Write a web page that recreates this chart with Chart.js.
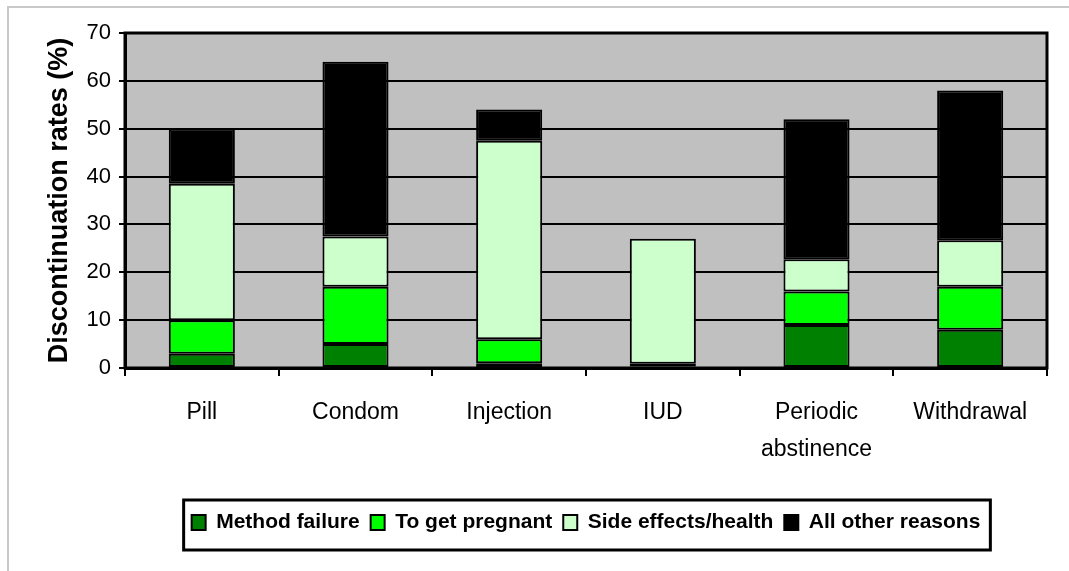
<!DOCTYPE html>
<html>
<head>
<meta charset="utf-8">
<script src="https://cdn.jsdelivr.net/npm/chart.js@4.4.1/dist/chart.umd.min.js"></script>
<style>
html, body { margin: 0; padding: 0; background: #fff; }
#wrap { width: 1069px; height: 571px; }
</style>
</head>
<body>
<div id="wrap"><canvas id="Chart" width="1069" height="571"></canvas></div>
<script>
// categories and the four stacked reasons (percent)
var methods = ['Pill', 'Condom', 'Injection', 'IUD', ['Periodic', 'abstinence'], 'Withdrawal'];
var seriesNames = ['Method failure', 'To get pregnant', 'Side effects/health', 'All other reasons'];
var methodFailure = [3, 5, 1, 0.3, 9, 8];
var toGetPregnant = [7, 12, 5, 0.6, 7, 9];
var sideEffects = [28.5, 10.5, 41.5, 26.1, 6.7, 9.7];
var otherReasons = [11.5, 36.5, 6.5, 0, 29.3, 31.3];
var yMin = 0, yMax = 70, yStep = 10;

var colours = ['#008000', '#00ff00', '#ccffcc', '#000000'];
var values = [methodFailure, toGetPregnant, sideEffects, otherReasons];

var sets = [];
for (var i = 0; i < seriesNames.length; i++) {
    sets.push({
        label: seriesNames[i],
        data: values[i],
        backgroundColor: colours[i],
        borderColor: '#000',
        borderWidth: 2,
        borderSkipped: false,
        barPercentage: 0.43,
        categoryPercentage: 1
    });
}

// grey plot area, black frame, outer frame and the legend box
var frame = {
    id: 'frame',
    afterLayout: function(chart) {
        // centre the legend under the plot area, not the whole canvas
        var lg = chart.legend, a = chart.chartArea;
        lg.left = a.left;
        lg.right = a.right;
        lg.width = a.right - a.left;
    },
    beforeDraw: function(chart) {
        var c = chart.ctx, a = chart.chartArea;
        c.save();
        c.fillStyle = '#c0c0c0';
        c.fillRect(a.left, a.top, a.right - a.left, a.bottom - a.top);
        c.strokeStyle = '#c8c8c8';
        c.lineWidth = 2;
        c.beginPath();
        c.moveTo(8, 571);
        c.lineTo(8, 7);
        c.lineTo(1069, 7);
        c.stroke();
        c.restore();
    },
    afterDraw: function(chart) {
        var c = chart.ctx, a = chart.chartArea;
        c.save();
        c.strokeStyle = '#000';
        c.lineWidth = 3;
        c.strokeRect(a.left, a.top, a.right - a.left, a.bottom - a.top);
        var hb = chart.legend.legendHitBoxes;
        if (hb && hb.length) {
            var l = hb[0].left, r = hb[0].left + hb[0].width, t = hb[0].top, b = hb[0].top + hb[0].height;
            hb.forEach(function(h) {
                l = Math.min(l, h.left); r = Math.max(r, h.left + h.width);
                t = Math.min(t, h.top); b = Math.max(b, h.top + h.height);
            });
            c.lineWidth = 3;
            c.strokeRect(l - 8, t - 12, r - l + 18, b - t + 29);
        }
        c.restore();
    }
};

var ctx = document.getElementById('Chart');
var chart = new Chart(ctx, {
    type: 'bar',
    data: { labels: methods, datasets: sets },
    plugins: [frame],
    options: {
        responsive: false,
        animation: false,
        layout: { padding: { left: 12, right: 22, top: 33, bottom: 28 } },
        plugins: {
            tooltip: { enabled: false },
            legend: {
                position: 'bottom',
                labels: {
                    color: '#000',
                    font: { family: 'Arial, "Liberation Sans"', size: 21, weight: 'bold' },
                    boxWidth: 14,
                    boxHeight: 15,
                    padding: 11
                }
            }
        },
        scales: {
            x: {
                stacked: true,
                afterFit: function(s) { s.height = 133; },
                grid: { display: true, drawOnChartArea: false, color: '#000', lineWidth: 2, tickLength: 8 },
                border: { color: '#000', width: 3 },
                ticks: {
                    color: '#000',
                    autoSkip: false,
                    maxRotation: 0,
                    padding: 18,
                    font: { family: 'Arial, "Liberation Sans"', size: 23, lineHeight: 1.6 }
                }
            },
            y: {
                stacked: true,
                min: yMin,
                max: yMax,
                afterFit: function(s) { s.width = 113; },
                grid: { color: '#000', lineWidth: 2, tickLength: 6 },
                border: { color: '#000', width: 3 },
                ticks: {
                    stepSize: yStep,
                    color: '#000',
                    padding: 8,
                    font: { family: 'Arial, "Liberation Sans"', size: 22 }
                },
                title: {
                    display: true,
                    text: 'Discontinuation rates (%)',
                    color: '#000',
                    padding: { top: 31, bottom: 0 },
                    font: { family: 'Arial, "Liberation Sans"', size: 27, weight: 'bold' }
                }
            }
        }
    }
});
</script>
</body>
</html>
